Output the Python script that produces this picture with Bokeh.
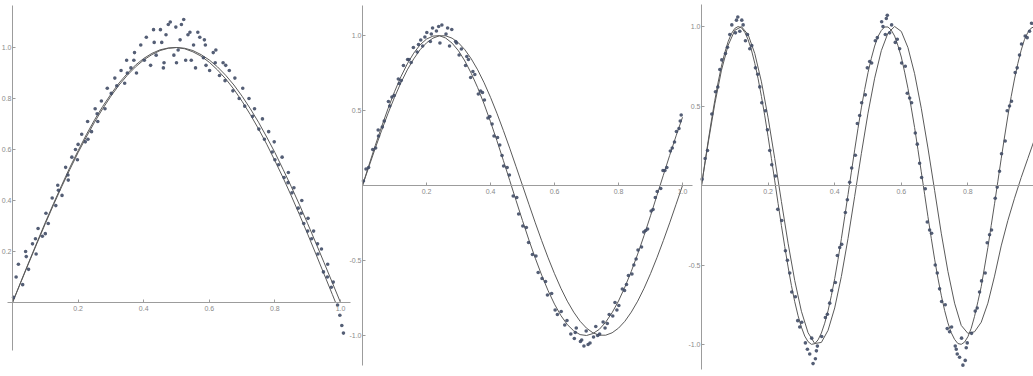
from bokeh.plotting import figure
from bokeh.models import Range1d, LinearAxis, FixedTicker, Grid
from bokeh.embed import file_html
from bokeh.resources import INLINE

# ---------------- data ----------------
# panel 1 : noisy half sine
p1_x = [0.003, 0.011, 0.018, 0.031, 0.042, 0.049, 0.061, 0.072, 0.078, 0.091, 0.102, 0.109, 0.121, 0.132, 0.138,
        0.151, 0.162, 0.169, 0.181, 0.192, 0.198, 0.211, 0.222, 0.229, 0.241, 0.252, 0.258, 0.271, 0.282, 0.289,
        0.301, 0.312, 0.318, 0.331, 0.342, 0.348, 0.361, 0.372, 0.378, 0.391, 0.402, 0.408, 0.421, 0.432, 0.438,
        0.451, 0.462, 0.468, 0.481, 0.492, 0.498, 0.511, 0.522, 0.528, 0.541, 0.552, 0.558, 0.571, 0.582, 0.588,
        0.601, 0.612, 0.618, 0.631, 0.642, 0.648, 0.661, 0.672, 0.678, 0.691, 0.702, 0.708, 0.721, 0.732, 0.738,
        0.751, 0.762, 0.768, 0.781, 0.792, 0.798, 0.811, 0.822, 0.828, 0.841, 0.852, 0.858, 0.871, 0.882, 0.888,
        0.901, 0.912, 0.918, 0.931, 0.942, 0.948, 0.961, 0.972, 0.978, 0.991, 0.998, 1.004, 1.009,
        0.43, 0.455, 0.475, 0.505, 0.515, 0.535, 0.545, 0.565, 0.585, 0.46, 0.59, 0.5, 0.35, 0.37, 0.65, 0.62,
        0.04, 0.07, 0.1, 0.14, 0.17, 0.2, 0.23, 0.26, 0.8, 0.84, 0.88, 0.9, 0.93, 0.96]
p1_y = [0.02, 0.10, 0.15, 0.07, 0.18, 0.13, 0.23, 0.19, 0.29, 0.26, 0.35, 0.31, 0.41, 0.38, 0.46,
        0.42, 0.53, 0.50, 0.57, 0.60, 0.56, 0.66, 0.63, 0.71, 0.67, 0.76, 0.74, 0.79, 0.76, 0.84,
        0.82, 0.88, 0.85, 0.91, 0.86, 0.95, 0.92, 0.98, 0.90, 1.01, 0.95, 1.04, 0.93, 1.02, 0.97,
        1.07, 0.94, 1.05, 1.10, 0.97, 1.08, 1.03, 1.11, 0.95, 1.06, 1.01, 0.92, 1.04, 0.96, 1.01,
        0.91, 0.98, 0.94, 0.89, 0.94, 0.87, 0.91, 0.83, 0.88, 0.80, 0.84, 0.77, 0.80, 0.73, 0.76,
        0.68, 0.72, 0.64, 0.67, 0.59, 0.63, 0.54, 0.57, 0.49, 0.51, 0.43, 0.45, 0.37, 0.40, 0.31,
        0.33, 0.25, 0.28, 0.19, 0.21, 0.12, 0.15, 0.06, 0.08, -0.01, -0.05, -0.09, -0.12,
        1.07, 1.02, 1.09, 0.99, 1.09, 1.05, 0.95, 1.06, 1.03, 0.92, 0.93, 0.94, 0.90, 0.95, 0.93, 0.99,
        0.20, 0.25, 0.27, 0.44, 0.48, 0.62, 0.64, 0.71, 0.56, 0.47, 0.35, 0.28, 0.23, 0.10]

# panel 2 : noisy full sine
p2_x = [0.003, 0.011, 0.019, 0.032, 0.041, 0.049, 0.062, 0.068, 0.081, 0.092, 0.099, 0.112, 0.121, 0.128, 0.141,
        0.152, 0.159, 0.171, 0.182, 0.188, 0.201, 0.212, 0.219, 0.231, 0.242, 0.248, 0.261, 0.272, 0.279, 0.291,
        0.302, 0.309, 0.322, 0.331, 0.338, 0.351, 0.362, 0.369, 0.381, 0.392, 0.398, 0.411, 0.422, 0.429, 0.441,
        0.452, 0.459, 0.471, 0.482, 0.488, 0.501, 0.512, 0.519, 0.531, 0.542, 0.549, 0.561, 0.572, 0.578, 0.591,
        0.602, 0.609, 0.621, 0.632, 0.639, 0.651, 0.662, 0.668, 0.681, 0.692, 0.699, 0.711, 0.722, 0.729, 0.741,
        0.752, 0.758, 0.771, 0.782, 0.789, 0.801, 0.812, 0.819, 0.831, 0.842, 0.848, 0.861, 0.872, 0.879, 0.891,
        0.902, 0.908, 0.921, 0.932, 0.939, 0.951, 0.962, 0.968, 0.981, 0.989, 0.996,
        0.215, 0.238, 0.266, 0.294, 0.326, 0.345, 0.375, 0.405, 0.436, 0.665, 0.685, 0.705, 0.735, 0.765,
        0.795, 0.825, 0.855, 0.885, 0.915, 0.945, 0.975, 0.993, 0.05, 0.085, 0.115, 0.145, 0.175, 0.195]
p2_y = [0.03, 0.11, 0.12, 0.24, 0.25, 0.37, 0.39, 0.43, 0.56, 0.59, 0.60, 0.71, 0.70, 0.80, 0.84,
        0.82, 0.92, 0.89, 0.97, 0.93, 1.02, 0.96, 1.05, 1.03, 0.95, 1.07, 1.01, 0.93, 1.04, 0.96,
        0.87, 0.91, 0.80, 0.84, 0.72, 0.74, 0.61, 0.63, 0.57, 0.45, 0.46, 0.33, 0.32, 0.27, 0.13,
        0.12, 0.07, -0.07, -0.08, -0.19, -0.27, -0.28, -0.38, -0.46, -0.47, -0.58, -0.62, -0.64, -0.73, -0.72,
        -0.83, -0.86, -0.84, -0.93, -0.90, -0.99, -1.02, -0.95, -1.04, -1.07, -0.97, -1.05, -1.01, -0.94, -0.99,
        -0.91, -0.95, -0.86, -0.87, -0.78, -0.80, -0.69, -0.70, -0.60, -0.59, -0.53, -0.43, -0.41, -0.31, -0.29,
        -0.17, -0.16, -0.04, -0.02, 0.10, 0.12, 0.23, 0.25, 0.36, 0.38, 0.47,
        1.01, 1.06, 1.05, 0.95, 0.86, 0.76, 0.62, 0.41, 0.20, -0.98, -1.03, -1.06, -1.00, -0.92,
        -0.83, -0.66, -0.49, -0.30, -0.08, 0.10, 0.29, 0.43, 0.33, 0.53, 0.68, 0.84, 0.94, 0.99]

# panel 3 : noisy faster sine
p3_x = [0.002, 0.011, 0.018, 0.031, 0.042, 0.049, 0.061, 0.072, 0.078, 0.091, 0.102, 0.109, 0.121, 0.132, 0.138,
        0.151, 0.162, 0.169, 0.181, 0.192, 0.198, 0.211, 0.222, 0.229, 0.241, 0.252, 0.258, 0.271, 0.282, 0.289,
        0.301, 0.312, 0.318, 0.331, 0.342, 0.348, 0.361, 0.372, 0.378, 0.391, 0.402, 0.408, 0.421, 0.432, 0.438,
        0.451, 0.462, 0.468, 0.481, 0.492, 0.498, 0.511, 0.522, 0.528, 0.541, 0.552, 0.558, 0.571, 0.582, 0.588,
        0.601, 0.612, 0.618, 0.631, 0.642, 0.648, 0.661, 0.672, 0.678, 0.691, 0.702, 0.708, 0.721, 0.732, 0.738,
        0.751, 0.762, 0.768, 0.781, 0.792, 0.798, 0.811, 0.822, 0.828, 0.841, 0.852, 0.858, 0.871, 0.882, 0.888,
        0.901, 0.912, 0.918, 0.931, 0.942, 0.948, 0.961, 0.972, 0.978, 0.991,
        0.105, 0.115, 0.125, 0.325, 0.335, 0.345, 0.545, 0.555, 0.565, 0.765, 0.775, 0.785, 0.795,
        0.055, 0.085, 0.145, 0.175, 0.205, 0.265, 0.295, 0.385, 0.415, 0.445, 0.475, 0.505, 0.595,
        0.625, 0.655, 0.685, 0.715, 0.745, 0.835, 0.865, 0.895, 0.925, 0.955, 0.985]
p3_y = [0.04, 0.17, 0.22, 0.45, 0.59, 0.62, 0.79, 0.83, 0.87, 1.01, 0.96, 1.06, 1.04, 0.91, 0.95,
        0.88, 0.74, 0.70, 0.52, 0.47, 0.35, 0.13, 0.06, -0.15, -0.22, -0.41, -0.47, -0.67, -0.70, -0.85,
        -0.86, -0.99, -1.03, -0.96, -1.09, -1.01, -0.95, -0.83, -0.81, -0.66, -0.61, -0.44, -0.37, -0.17, -0.09,
        0.11, 0.19, 0.39, 0.52, 0.57, 0.74, 0.77, 0.91, 0.93, 1.03, 0.95, 1.07, 1.01, 0.90, 0.92,
        0.77, 0.75, 0.58, 0.52, 0.33, 0.26, 0.05, -0.02, -0.23, -0.30, -0.50, -0.55, -0.73, -0.75, -0.90,
        -0.89, -1.01, -1.06, -0.96, -1.10, -0.99, -0.93, -0.79, -0.77, -0.60, -0.55, -0.36, -0.28, -0.08, -0.01,
        0.20, 0.28, 0.47, 0.53, 0.71, 0.74, 0.89, 0.94, 0.93, 1.02,
        1.04, 0.97, 1.01, -1.06, -1.12, -1.04, 1.00, 1.05, 0.96, -1.03, -1.08, -1.13, -1.02,
        0.73, 0.95, 0.86, 0.62, 0.22, -0.55, -0.89, -0.74, -0.39, 0.02, 0.44, 0.78, 0.86,
        0.55, 0.14, -0.28, -0.65, -0.92, -0.67, -0.31, 0.09, 0.50, 0.82, 0.97]

# fitted curves (sampled)
c1_x = [0.0, 0.025, 0.05, 0.075, 0.1, 0.125, 0.15, 0.175, 0.2, 0.225, 0.25, 0.275, 0.3, 0.325, 0.35, 0.375,
        0.4, 0.425, 0.45, 0.475, 0.5, 0.525, 0.55, 0.575, 0.6, 0.625, 0.65, 0.675, 0.7, 0.725, 0.75, 0.775,
        0.8, 0.825, 0.85, 0.875, 0.9, 0.925, 0.95, 0.975, 1.0]
c1a_y = [0.0, 0.078, 0.156, 0.233, 0.309, 0.383, 0.454, 0.522, 0.588, 0.649, 0.707, 0.760, 0.809, 0.853, 0.891, 0.924,
         0.951, 0.972, 0.988, 0.997, 1.0, 0.997, 0.988, 0.972, 0.951, 0.924, 0.891, 0.853, 0.809, 0.760, 0.707, 0.649,
         0.588, 0.522, 0.454, 0.383, 0.309, 0.233, 0.156, 0.078, 0.0]
c1b_x = [0.0, 0.025, 0.05, 0.075, 0.1, 0.125, 0.15, 0.175, 0.2, 0.225, 0.25, 0.275, 0.3, 0.325, 0.35, 0.375,
         0.4, 0.425, 0.45, 0.475, 0.5, 0.525, 0.55, 0.575, 0.6, 0.625, 0.65, 0.675, 0.7, 0.725, 0.75, 0.775,
         0.8, 0.825, 0.85, 0.875, 0.9, 0.925, 0.95, 0.975, 0.985]
c1b_y = [0.0, 0.080, 0.159, 0.237, 0.314, 0.388, 0.460, 0.530, 0.595, 0.658, 0.716, 0.769, 0.817, 0.861, 0.898, 0.931,
         0.957, 0.977, 0.991, 0.998, 1.0, 0.995, 0.983, 0.966, 0.942, 0.912, 0.877, 0.836, 0.789, 0.737, 0.681, 0.621,
         0.556, 0.489, 0.418, 0.344, 0.268, 0.190, 0.111, 0.032, 0.0]

c_x = [0.0, 0.02, 0.04, 0.06, 0.08, 0.1, 0.12, 0.14, 0.16, 0.18, 0.2, 0.22, 0.24, 0.26, 0.28, 0.3, 0.32,
       0.34, 0.36, 0.38, 0.4, 0.42, 0.44, 0.46, 0.48, 0.5, 0.52, 0.54, 0.56, 0.58, 0.6, 0.62, 0.64, 0.66,
       0.68, 0.7, 0.72, 0.74, 0.76, 0.78, 0.8, 0.82, 0.84, 0.86, 0.88, 0.9, 0.92, 0.94, 0.96, 0.98, 1.0]
c2a_y = [0.0, 0.135, 0.267, 0.394, 0.514, 0.625, 0.725, 0.811, 0.882, 0.938, 0.976, 0.996, 0.999, 0.983, 0.949,
         0.898, 0.830, 0.747, 0.652, 0.543, 0.425, 0.299, 0.168, 0.034, -0.101, -0.234, -0.363, -0.485, -0.598,
         -0.701, -0.791, -0.867, -0.927, -0.969, -0.994, -1.0, -0.987, -0.959, -0.911, -0.848, -0.770, -0.677,
         -0.572, -0.457, -0.333, -0.202, -0.067, 0.068, 0.201, 0.331, 0.455]
c2b_y = [0.0, 0.125, 0.249, 0.368, 0.482, 0.588, 0.685, 0.771, 0.844, 0.905, 0.951, 0.982, 0.998, 0.998, 0.982,
         0.951, 0.905, 0.844, 0.771, 0.685, 0.588, 0.482, 0.368, 0.249, 0.125, 0.0, -0.125, -0.249, -0.368,
         -0.482, -0.588, -0.685, -0.771, -0.844, -0.905, -0.951, -0.982, -0.998, -0.998, -0.982, -0.951, -0.905,
         -0.844, -0.771, -0.685, -0.588, -0.482, -0.368, -0.249, -0.125, 0.0]

c3a_x = [0.0, 0.01, 0.02, 0.03, 0.04, 0.05, 0.06, 0.07, 0.08, 0.09, 0.1, 0.11, 0.12, 0.13, 0.14, 0.15, 0.16,
         0.17, 0.18, 0.19, 0.2, 0.21, 0.22, 0.23, 0.24, 0.25, 0.26, 0.27, 0.28, 0.29, 0.3, 0.31, 0.32, 0.33,
         0.34, 0.35, 0.36, 0.37, 0.38, 0.39, 0.4, 0.41, 0.42, 0.43, 0.44, 0.45, 0.46, 0.47, 0.48, 0.49, 0.5,
         0.51, 0.52, 0.53, 0.54, 0.55, 0.56, 0.57, 0.58, 0.59, 0.6, 0.61, 0.62, 0.63, 0.64, 0.65, 0.66, 0.67,
         0.68, 0.69, 0.7, 0.71, 0.72, 0.73, 0.74, 0.75, 0.76, 0.77, 0.78, 0.79, 0.8, 0.81, 0.82, 0.83, 0.84,
         0.85, 0.86, 0.87, 0.88, 0.89, 0.9, 0.91, 0.92, 0.93, 0.94, 0.95, 0.96, 0.97, 0.98, 0.99, 1.0]
c3a_y = [0.0, 0.141, 0.279, 0.412, 0.536, 0.650, 0.751, 0.836, 0.905, 0.956, 0.988, 1.0, 0.992, 0.964, 0.917,
         0.852, 0.769, 0.671, 0.560, 0.438, 0.307, 0.169, 0.029, -0.113, -0.252, -0.385, -0.512, -0.629, -0.731,
         -0.819, -0.891, -0.947, -0.982, -0.999, -0.995, -0.971, -0.928, -0.866, -0.788, -0.693, -0.586, -0.465,
         -0.335, -0.197, -0.057, 0.084, 0.224, 0.359, 0.488, 0.604, 0.710, 0.800, 0.877, 0.937, 0.975, 0.997,
         0.997, 0.977, 0.940, 0.879, 0.808, 0.713, 0.611, 0.488, 0.364, 0.226, 0.086, -0.055, -0.196, -0.332,
         -0.463, -0.583, -0.690, -0.785, -0.864, -0.926, -0.968, -0.994, -0.999, -0.985, -0.951, -0.898, -0.823,
         -0.731, -0.636, -0.513, -0.390, -0.251, -0.115, 0.027, 0.168, 0.305, 0.437, 0.560, 0.670, 0.768, 0.851,
         0.919, 0.963, 0.990, 0.999]
c3b_y = [0.0, 0.267, 0.514, 0.725, 0.882, 0.976, 0.999, 0.949, 0.830, 0.652, 0.426, 0.169, -0.101, -0.363,
         -0.598, -0.791, -0.926, -0.994, -0.987, -0.911, -0.770, -0.572, -0.333, -0.068, 0.200, 0.455, 0.675,
         0.848, 0.959, 1.0, 0.969, 0.867, 0.703, 0.486, 0.236, -0.03, -0.30, -0.54, -0.74, -0.88, -0.93,
         -0.92, -0.86, -0.74, -0.57, -0.38, -0.22, -0.08, 0.05, 0.17, 0.29]

# axis ticks
p1_xticks = [0.2, 0.4, 0.6, 0.8, 1.0]
p1_xlabels = ["0.2", "0.4", "0.6", "0.8", "1.0"]
p1_yticks = [0.2, 0.4, 0.6, 0.8, 1.0]
p1_ylabels = ["0.2", "0.4", "0.6", "0.8", "1.0"]
pn_xticks = [0.2, 0.4, 0.6, 0.8, 1.0]
pn_xlabels = ["0.2", "0.4", "0.6", "0.8", "1.0"]
pn_yticks = [-1.0, -0.5, 0.5, 1.0]
pn_ylabels = ["-1.0", "-0.5", "0.5", "1.0"]

# ---------------- figure ----------------
W, H = 1033, 376
p = figure(width=W, height=H, output_backend="svg", toolbar_location=None,
           x_axis_location=None, y_axis_location=None, min_border=0,
           x_range=Range1d(-12 / 328, -12 / 328 + W / 328),
           y_range=Range1d(-(H - 302) / 255, 302 / 255))
p.outline_line_color = None
p.background_fill_color = "white"
p.border_fill_color = "white"
for g in p.select(type=Grid):
    g.visible = False
p.extra_x_ranges = {"b": Range1d(-362 / 320, -362 / 320 + W / 320),
                    "c": Range1d(-701 / 333, -701 / 333 + W / 333)}
p.extra_y_ranges = {"b": Range1d(-(H - 185) / 150, 185 / 150),
                    "c": Range1d(-(H - 185) / 159, 185 / 159)}

AX = "#9c9c9c"
LBL = "#8a8a8a"


def add_axes(rn, xt, xl, xb, yt, yl, yb):
    xa = LinearAxis(x_range_name=rn, y_range_name=rn, fixed_location=0, bounds=xb,
                    ticker=FixedTicker(ticks=xt, minor_ticks=[]),
                    major_label_overrides=dict(zip(xt, xl)))
    ya = LinearAxis(x_range_name=rn, y_range_name=rn, fixed_location=0, bounds=yb,
                    ticker=FixedTicker(ticks=yt, minor_ticks=[]),
                    major_label_overrides=dict(zip(yt, yl)))
    for a in (xa, ya):
        a.axis_line_color = AX
        a.axis_line_width = 1
        a.major_tick_line_color = AX
        a.major_tick_in = 3
        a.major_tick_out = 0
        a.minor_tick_line_color = None
        a.major_label_text_font = "Liberation Sans"
        a.major_label_text_font_size = "7px"
        a.major_label_text_color = LBL
    xa.major_label_standoff = 3
    ya.major_label_standoff = 1
    p.add_layout(xa, "below")
    p.add_layout(ya, "left")


add_axes("default", p1_xticks, p1_xlabels, (-0.015, 1.03), p1_yticks, p1_ylabels, (-0.19, 1.165))
add_axes("b", pn_xticks, pn_xlabels, (0.0, 1.03), pn_yticks, pn_ylabels, (-1.2, 1.2))
add_axes("c", pn_xticks, pn_xlabels, (0.0, 1.0), pn_yticks, pn_ylabels, (-1.16, 1.14))

LINE = "#5a5a5a"
PT = "#414d66"

# panel 1
p.line(c1_x, c1a_y, line_color=LINE, line_width=1)
p.line(c1b_x, c1b_y, line_color=LINE, line_width=1)
p.scatter(p1_x, p1_y, size=3.6, fill_color=PT, line_color=None, fill_alpha=0.9)
# panel 2
p.line(c_x, c2a_y, line_color=LINE, line_width=1, x_range_name="b", y_range_name="b")
p.line(c_x, c2b_y, line_color=LINE, line_width=1, x_range_name="b", y_range_name="b")
p.scatter(p2_x, p2_y, size=3.6, fill_color=PT, line_color=None, fill_alpha=0.9,
          x_range_name="b", y_range_name="b")
# panel 3
p.line(c3a_x, c3a_y, line_color=LINE, line_width=1, x_range_name="c", y_range_name="c")
p.line(c_x, c3b_y, line_color=LINE, line_width=1, x_range_name="c", y_range_name="c")
p.scatter(p3_x, p3_y, size=3.6, fill_color=PT, line_color=None, fill_alpha=0.9,
          x_range_name="c", y_range_name="c")

open("out.html", "w").write(file_html(p, INLINE))
